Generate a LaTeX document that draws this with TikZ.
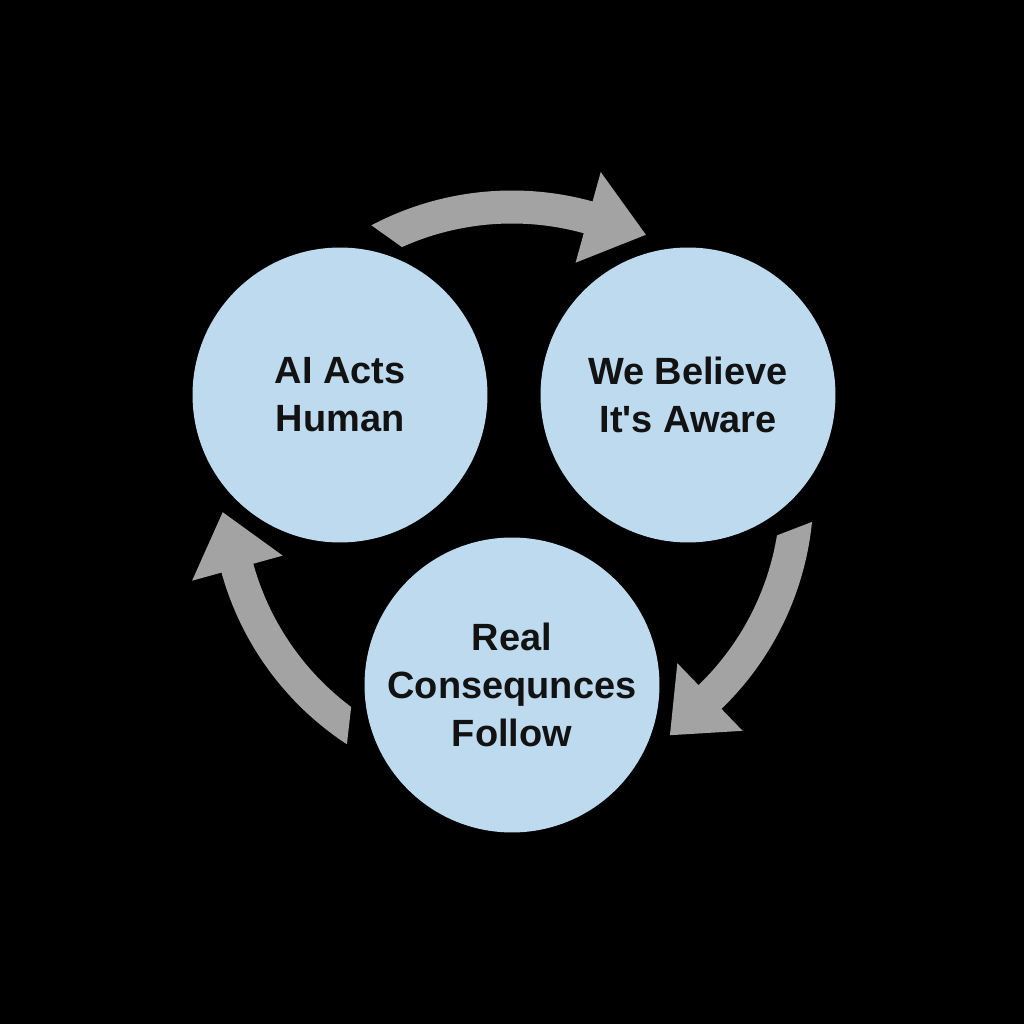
\documentclass[tikz,border=0pt]{standalone}
\usepackage{fontspec}
\setmainfont{Liberation Sans}[Ligatures=TeXOff]
\definecolor{bubble}{HTML}{BDDAEE}
\definecolor{arrowgrey}{HTML}{A3A3A3}
\definecolor{ink}{HTML}{121212}
\begin{document}
\begin{tikzpicture}[x=0.02cm,y=0.02cm,
  bubblenode/.style={circle,fill=bubble,minimum size=5.9cm,inner sep=0pt,
    align=center,text=ink,font=\bfseries\fontsize{21.6pt}{27.3pt}\selectfont}]
\fill[black] (0,0) rectangle (1024,1024);
\useasboundingbox (0,0) rectangle (1024,1024);
\coordinate (C) at (512,532);
% cycle arrows
\begin{scope}[shift={(C)}]
\foreach \a/\b/\t in {116/74.5/62.5, -7.5/-46/-57, 235/195.5/184}{
  \fill[arrowgrey] ({\a+1.8}:301.5) arc[start angle={\a+1.8}, end angle=\b, radius=301.5]
    -- (\b:332) -- (\t:290) -- (\b:238) -- (\b:268.5)
    arc[start angle=\b, end angle={\a-1.8}, radius=268.5] -- cycle;
}
\end{scope}
\node[bubblenode] (act) at (340,629) {AI Acts\\Human};
\node[bubblenode] (believe) at (688,629) {We Believe\\It's Aware};
\node[bubblenode] (conseq) at (512,339) {Real\\Consequnces\\Follow};
\end{tikzpicture}
\end{document}
